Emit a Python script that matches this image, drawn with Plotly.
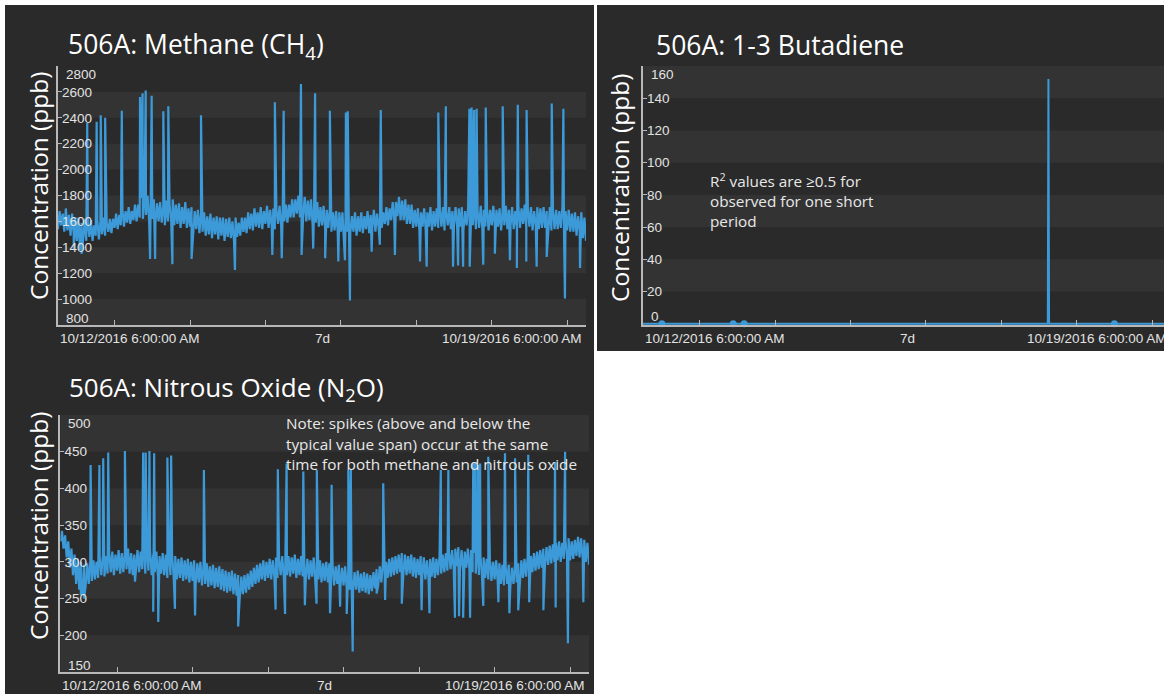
import plotly.graph_objects as go
from datetime import datetime, timedelta

# ---------------- DATA ----------------
START = datetime(2016, 10, 12, 6, 0)

# Methane: hourly low / high of the noisy band (ppb), hour 0..168 from START
methane_lo = [
    1540, 1570, 1520, 1530, 1490, 1500, 1450, 1440, 1460, 1450, 1480, 1450,
    1490, 1460, 1500, 1490, 1520, 1510, 1550, 1540, 1570, 1560, 1590, 1580,
    1610, 1600, 1630, 1620, 1650, 1610, 1620, 1590, 1600, 1590, 1570, 1600,
    1610, 1570, 1580, 1550, 1580, 1550, 1560, 1530, 1540, 1510, 1520, 1490,
    1500, 1470, 1500, 1460, 1490, 1450, 1480, 1470, 1450, 1480, 1490, 1520,
    1510, 1540, 1530, 1560, 1550, 1540, 1580, 1550, 1560, 1540, 1580, 1570,
    1600, 1590, 1630, 1630, 1660, 1630, 1640, 1600, 1610, 1580, 1590, 1560,
    1570, 1540, 1550, 1520, 1530, 1520, 1520, 1490, 1520, 1510, 1520, 1490,
    1520, 1510, 1540, 1510, 1550, 1520, 1560, 1550, 1580, 1570, 1610, 1610,
    1640, 1610, 1610, 1580, 1580, 1550, 1560, 1530, 1560, 1530, 1560, 1530,
    1560, 1550, 1560, 1530, 1570, 1540, 1570, 1560, 1560, 1530, 1570, 1540,
    1570, 1540, 1550, 1550, 1560, 1530, 1570, 1560, 1560, 1530, 1570, 1540,
    1570, 1540, 1550, 1550, 1580, 1550, 1560, 1530, 1570, 1540, 1550, 1550,
    1560, 1530, 1540, 1540, 1550, 1520, 1530, 1520, 1520, 1490, 1530, 1470, 1450,
]
methane_hi = [
    1680, 1660, 1700, 1650, 1660, 1630, 1630, 1590, 1620, 1580, 1610, 1570,
    1610, 1600, 1630, 1590, 1620, 1620, 1660, 1650, 1690, 1680, 1710, 1680,
    1730, 1730, 1780, 1770, 1800, 1760, 1770, 1740, 1750, 1720, 1760, 1730,
    1770, 1730, 1740, 1710, 1750, 1700, 1710, 1680, 1690, 1660, 1670, 1640,
    1660, 1630, 1640, 1630, 1630, 1620, 1630, 1600, 1630, 1590, 1630, 1630,
    1670, 1660, 1700, 1670, 1710, 1680, 1720, 1690, 1700, 1690, 1720, 1690,
    1730, 1730, 1770, 1770, 1800, 1790, 1790, 1760, 1770, 1740, 1750, 1710,
    1720, 1690, 1700, 1670, 1680, 1670, 1670, 1640, 1670, 1640, 1670, 1640,
    1670, 1640, 1680, 1650, 1690, 1660, 1700, 1670, 1710, 1700, 1750, 1750,
    1790, 1760, 1770, 1730, 1730, 1690, 1700, 1670, 1700, 1670, 1710, 1680,
    1700, 1690, 1710, 1680, 1710, 1680, 1710, 1700, 1710, 1680, 1710, 1700,
    1710, 1680, 1720, 1690, 1700, 1690, 1720, 1690, 1700, 1690, 1720, 1690,
    1710, 1680, 1710, 1700, 1730, 1700, 1710, 1680, 1710, 1700, 1710, 1680,
    1710, 1680, 1690, 1680, 1710, 1680, 1690, 1660, 1670, 1640, 1670, 1630, 1610,
]
methane_spike_hours = [
    5.0, 7.0, 7.5, 9.3, 12.3, 13.6, 15.0, 20.3, 26.1, 26.9, 27.9, 29.3, 29.8, 30.9,
    33.5, 35.1, 36.4, 42.5, 45.5, 56.3, 68.2, 69.0, 71.2, 71.8, 77.3, 77.5, 81.2,
    81.8, 85.0, 86.5, 89.2, 91.3, 91.6, 92.2, 92.9, 99.8, 102.4, 102.7, 107.2,
    115.2, 117.3, 121.0, 123.4, 125.7, 127.3, 128.9, 130.9, 131.0, 131.6, 132.4,
    133.2, 135.3, 136.1, 139.0, 141.5, 143.8, 146.0, 146.3, 149.0, 149.1, 152.3,
    155.5, 157.1, 160.8, 161.3, 166.1,
]
methane_spike_values = [
    1380, 1380, 1350, 2360, 2370, 2420, 2400, 2455, 2560, 2590, 2610, 1310, 2570, 1310,
    2450, 2490, 1270, 1310, 2420, 1225, 1340, 2520, 1315, 2455, 2660, 1340, 1390,
    2590, 1315, 2455, 1290, 1300, 2440, 2450, 990, 1365, 1420, 2460, 1340,
    1290, 1250, 2440, 2490, 1250, 1260, 1250, 2470, 1250, 2480, 2460,
    2470, 1265, 2480, 1350, 2490, 1300, 1240, 2500, 1290, 2460, 1250,
    1325, 2510, 2470, 1005, 1240,
]

# Nitrous oxide: hourly low / high of the band (ppb)
n2o_lo = [
    328, 318, 306, 292, 282, 270, 262, 258, 266, 270, 274, 276,
    278, 282, 280, 284, 286, 282, 288, 284, 286, 290, 284, 282,
    288, 286, 290, 284, 288, 282, 286, 280, 284, 282, 278, 282,
    280, 276, 278, 274, 276, 272, 274, 270, 272, 268, 270, 266,
    268, 264, 266, 262, 260, 258, 260, 256, 254, 252, 256, 258,
    262, 266, 270, 272, 276, 274, 278, 276, 280, 278, 282, 280,
    282, 280, 284, 278, 282, 280, 278, 276, 280, 274, 276, 272,
    274, 272, 270, 268, 270, 266, 268, 264, 262, 260, 262, 258,
    260, 258, 256, 260, 264, 268, 272, 274, 278, 280, 282, 284,
    286, 284, 282, 284, 280, 278, 282, 280, 276, 278, 280, 278,
    282, 284, 286, 288, 290, 292, 294, 290, 288, 292, 290, 286,
    284, 282, 280, 278, 276, 274, 276, 272, 270, 268, 270, 266,
    270, 272, 276, 278, 280, 282, 286, 288, 290, 292, 294, 296,
    298, 300, 302, 300, 304, 306, 302, 304, 308, 306, 304, 300, 296,
]
n2o_hi = [
    342, 336, 328, 318, 310, 304, 300, 296, 298, 300, 302, 300,
    304, 310, 308, 312, 314, 310, 316, 312, 314, 318, 312, 310,
    316, 314, 318, 312, 316, 310, 314, 308, 312, 310, 306, 310,
    308, 304, 306, 302, 304, 300, 302, 298, 300, 296, 298, 294,
    296, 292, 294, 290, 288, 286, 288, 284, 282, 280, 282, 284,
    288, 292, 296, 298, 302, 300, 304, 302, 306, 304, 308, 306,
    308, 306, 310, 304, 308, 306, 304, 302, 306, 300, 302, 298,
    300, 298, 296, 294, 296, 292, 294, 290, 288, 286, 288, 284,
    286, 284, 282, 286, 290, 294, 298, 300, 304, 306, 308, 310,
    312, 310, 308, 310, 306, 304, 308, 306, 302, 304, 306, 304,
    308, 310, 312, 314, 316, 318, 320, 316, 314, 318, 316, 312,
    310, 308, 306, 304, 302, 300, 302, 298, 296, 294, 296, 292,
    296, 298, 302, 304, 306, 308, 312, 314, 316, 318, 320, 322,
    324, 326, 328, 326, 330, 332, 328, 330, 334, 332, 330, 326, 322,
]
n2o_spike_hours = [
    6.5, 7.5, 9.6, 12.4, 13.6, 15.2, 20.5, 23.7, 26.3, 27.1, 28.3, 29.5, 29.8, 31.1,
    34.0, 35.2, 36.4, 42.8, 45.6, 56.5, 68.4, 69.1, 71.4, 71.9, 77.2, 77.7, 81.4,
    81.5, 85.7, 86.2, 88.9, 91.0, 91.5, 92.3, 92.9, 100.5, 102.6, 103.2, 108.5,
    114.8, 117.3, 120.9, 123.3, 125.4, 126.7, 128.0, 130.2, 131.2, 131.9, 132.7,
    133.4, 134.4, 136.0, 139.2, 141.3, 142.7, 144.5, 145.5, 148.7, 149.0, 153.5,
    157.2, 157.4, 160.4, 161.3, 166.2,
]
n2o_spike_values = [
    255, 250, 432, 432, 441, 449, 451, 273, 449, 449, 451, 232, 448, 218,
    442, 445, 236, 227, 425, 212, 235, 426, 229, 434, 423, 241, 243,
    425, 230, 405, 239, 229, 425, 425, 178, 257, 407, 248, 243,
    234, 230, 425, 425, 224, 226, 224, 224, 434, 436, 432,
    434, 240, 443, 245, 448, 230, 441, 234, 446, 245, 234,
    436, 238, 450, 189, 245,
]

# 1-3 Butadiene readings (ppb)
butadiene_hours = [0.0, 128.8, 129.0, 129.2, 168.0]
butadiene_values = [0, 0, 152, 0, 0]
butadiene_dot_hours = [6.0, 28.7, 32.2, 150.0]
butadiene_dot_values = [0, 0, 0, 0]

methane_ticks = [800, 1000, 1200, 1400, 1600, 1800, 2000, 2200, 2400, 2600, 2800]
n2o_ticks = [150, 200, 250, 300, 350, 400, 450, 500]
butadiene_ticks = [0, 20, 40, 60, 80, 100, 120, 140, 160]

x_label_left = "10/12/2016 6:00:00 AM"
x_label_mid = "7d"
x_label_right = "10/19/2016 6:00:00 AM"

# ---------------- HELPERS ----------------
W, H = 1164, 694


def px(x):
    return x / W


def py(y):
    return 1 - y / H


def to_time(hours):
    return [START + timedelta(hours=h) for h in hours]


def merged(lo, hi, sh, sv):
    pts = []
    for i in range(len(lo)):
        pts.append((float(i), lo[i]))
        if i < len(lo) - 1:
            pts.append((i + 0.5, hi[i]))
    pts += list(zip(sh, sv))
    pts.sort(key=lambda p: p[0])
    return to_time([p[0] for p in pts]), [p[1] for p in pts]


BLUE = "#3d9ad9"
PANEL = "#2a2a2a"
BAND = "#333333"
AXIS = "#b8b8b8"
TICKFONT = dict(family="Liberation Sans, Arial", size=13.5, color="#e2e2e2")
TITLEFONT = "Open Sans"

END = START + timedelta(hours=168)

fig = go.Figure()

mx, my = merged(methane_lo, methane_hi, methane_spike_hours, methane_spike_values)
nx, ny = merged(n2o_lo, n2o_hi, n2o_spike_hours, n2o_spike_values)

fig.add_trace(go.Scatter(x=mx, y=my, mode="lines", line=dict(color=BLUE, width=2.2),
                         xaxis="x", yaxis="y", showlegend=False))
fig.add_trace(go.Scatter(x=to_time(butadiene_hours), y=butadiene_values, mode="lines",
                         line=dict(color=BLUE, width=2), xaxis="x2", yaxis="y2", showlegend=False))
fig.add_trace(go.Scatter(x=to_time(butadiene_dot_hours), y=butadiene_dot_values, mode="markers",
                         marker=dict(color=BLUE, size=7), cliponaxis=False,
                         xaxis="x2", yaxis="y2", showlegend=False))
fig.add_trace(go.Scatter(x=nx, y=ny, mode="lines", line=dict(color=BLUE, width=2.2),
                         xaxis="x3", yaxis="y3", showlegend=False))

# plot-area pixel boxes
boxes = {
    "1": dict(x0=58, x1=586, y0=66, y1=325),
    "2": dict(x0=643, x1=1164, y0=66, y1=325),
    "3": dict(x0=60.4, x1=589, y0=415, y1=672),
}
px_per_hour = 528 / 168.0
bd_end = START + timedelta(hours=(1164 - 643) / px_per_hour)


def xaxis_style(domain, rng, anchor):
    return dict(domain=domain, range=rng, anchor=anchor, type="date",
                showgrid=False, zeroline=False, showline=True, linecolor=AXIS, linewidth=1.5,
                ticks="inside", ticklen=5, tickwidth=1, tickcolor=AXIS,
                tick0="2016-10-13 00:00", dtick=86400000, showticklabels=False,
                fixedrange=True)


def yaxis_style(domain, rng, tickvals, anchor):
    return dict(domain=domain, range=rng, anchor=anchor,
                showgrid=False, zeroline=False, showline=True, linecolor=AXIS, linewidth=1.5,
                ticks="inside", ticklen=4, tickwidth=1, tickcolor=AXIS,
                tickvals=tickvals[1:-1], ticklabelposition="inside",
                tickfont=TICKFONT, fixedrange=True)


b1, b2, b3 = boxes["1"], boxes["2"], boxes["3"]
fig.update_layout(
    xaxis=xaxis_style([px(b1["x0"]), px(b1["x1"])], [START, END], "y"),
    yaxis=yaxis_style([py(b1["y1"]), py(b1["y0"])], [methane_ticks[0], methane_ticks[-1]], methane_ticks, "x"),
    xaxis2=xaxis_style([px(b2["x0"]), 1.0], [START, bd_end], "y2"),
    yaxis2=yaxis_style([py(b2["y1"]), py(b2["y0"])], [-0.8, butadiene_ticks[-1]], butadiene_ticks, "x2"),
    xaxis3=xaxis_style([px(b3["x0"]), px(b3["x1"])], [START, END], "y3"),
    yaxis3=yaxis_style([py(b3["y1"]), py(b3["y0"])], [n2o_ticks[0], n2o_ticks[-1]], n2o_ticks, "x3"),
)

shapes = []
# dark panels
shapes.append(dict(type="rect", xref="paper", yref="paper", x0=px(5), x1=px(594), y0=0, y1=py(5),
                   fillcolor=PANEL, line=dict(width=0), layer="below"))
shapes.append(dict(type="rect", xref="paper", yref="paper", x0=px(597), x1=1.0, y0=py(351), y1=py(5),
                   fillcolor=PANEL, line=dict(width=0), layer="below"))


def bands(ticks, start_idx, xr, yr):
    out = []
    for i in range(start_idx, len(ticks) - 1, 2):
        out.append(dict(type="rect", xref=xr + " domain", yref=yr, x0=0, x1=1,
                        y0=ticks[i], y1=ticks[i + 1], fillcolor=BAND, line=dict(width=0), layer="below"))
    return out


shapes += bands(methane_ticks, 0, "x", "y")
shapes += bands(butadiene_ticks, 1, "x2", "y2")
shapes += bands(n2o_ticks, 0, "x3", "y3")
fig.update_layout(shapes=shapes)

ann = []


def text(x, y, s, size, xanchor="left", color="white", family=TITLEFONT, angle=0, xref="paper", yref="paper",
         xshift=0, yshift=0):
    ann.append(dict(x=x, y=y, xref=xref, yref=yref, text=s, showarrow=False, xanchor=xanchor,
                    yanchor="middle", textangle=angle, xshift=xshift, yshift=yshift,
                    font=dict(family=family, size=size, color=color)))


# titles
text(px(66), py(45), "506A: Methane (CH<sub>4</sub>)", 26.5)
text(px(654), py(45), "506A: 1-3 Butadiene", 26.5)
text(px(67), py(388), "506A: Nitrous Oxide (N<sub>2</sub>O)", 26)

# y-axis titles
for xx, yy in [(38, 186), (620, 188), (38, 526)]:
    text(px(xx), py(yy), "Concentration (ppb)", 24.5, xanchor="center", angle=-90)

# x-axis labels
for xr, ypix, right_frac in [("x", 338, 1.0), ("x2", 338, 528 / 521.0), ("x3", 685, 1.0)]:
    mid_frac = 0.5 * right_frac
    text(0, py(ypix), x_label_left, 13.5, "left", TICKFONT["color"], TICKFONT["family"], xref=xr + " domain")
    text(mid_frac, py(ypix), x_label_mid, 13.5, "center", TICKFONT["color"], TICKFONT["family"],
         xref=xr + " domain")
    text(right_frac, py(ypix), x_label_right, 13.5, "right", TICKFONT["color"], TICKFONT["family"],
         xref=xr + " domain", xshift=-2)

# end tick labels (top and bottom) drawn just inside the plot
for xr, yr, ticks in [("x", "y", methane_ticks), ("x2", "y2", butadiene_ticks), ("x3", "y3", n2o_ticks)]:
    ann.append(dict(x=0, y=ticks[-1], xref=xr + " domain", yref=yr, text=str(ticks[-1]), showarrow=False,
                    xanchor="left", yanchor="middle", xshift=6, yshift=-8, font=TICKFONT))
    ann.append(dict(x=0, y=ticks[0], xref=xr + " domain", yref=yr, text=str(ticks[0]), showarrow=False,
                    xanchor="left", yanchor="middle", xshift=6, yshift=7, font=TICKFONT))

# notes
note_font = "Open Sans"
for i, line in enumerate(["R<sup>2</sup> values are ≥0.5 for", "observed for one short", "period"]):
    text(px(708), py(180 + i * 20.5), line, 15.3, "left", "#e8e8e8", note_font)
for i, line in enumerate(["Note: spikes (above and below the", "typical value span) occur at the same",
                          "time for both methane and nitrous oxide"]):
    text(px(284), py(423 + i * 20.5), line, 15.3, "left", "#e8e8e8", note_font)

fig.update_layout(annotations=ann, width=W, height=H, margin=dict(l=0, r=0, t=0, b=0),
                  paper_bgcolor="white", plot_bgcolor="rgba(0,0,0,0)", showlegend=False)

fig.write_html("out.html", config={"displayModeBar": False},
               post_script="document.body.style.margin='0';document.body.style.overflow='hidden';")
